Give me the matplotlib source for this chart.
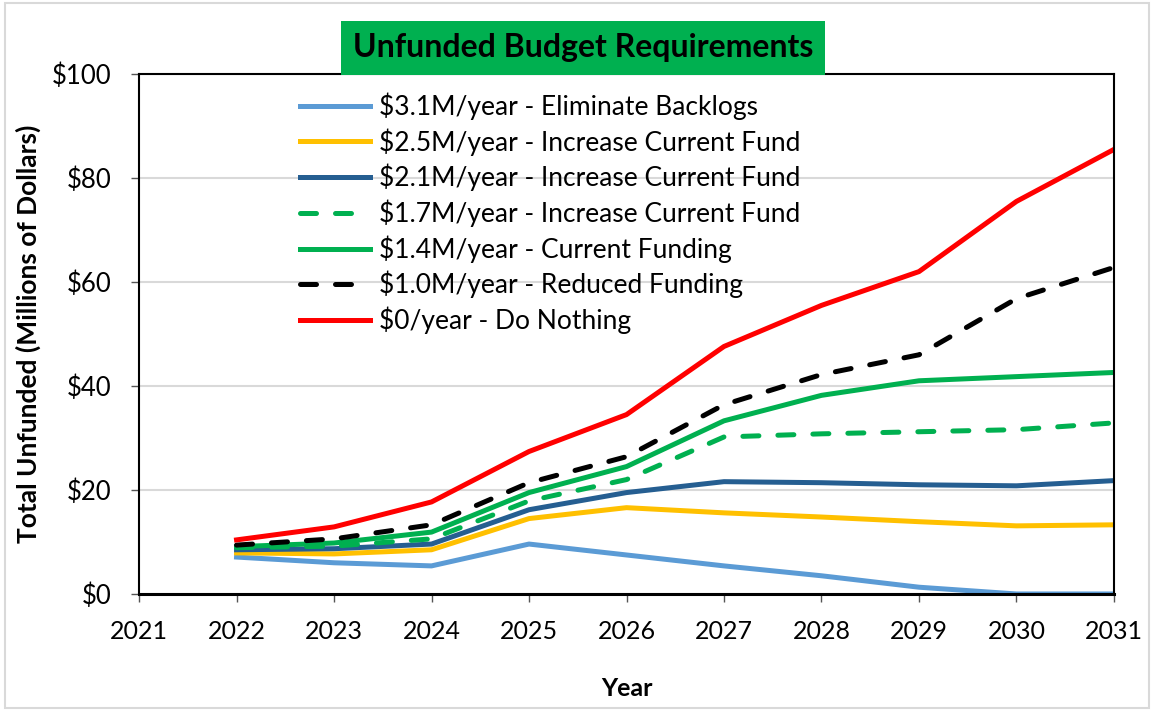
import matplotlib
matplotlib.use("Agg")
import matplotlib.pyplot as plt
from matplotlib.patches import Rectangle

plt.rcParams['font.family'] = ['Lato', 'DejaVu Sans']

years = [2022, 2023, 2024, 2025, 2026, 2027, 2028, 2029, 2030, 2031]

eliminate_backlogs = [7.1, 6.0, 5.4, 9.6, 7.5, 5.4, 3.5, 1.3, 0.0, 0.0]
increase_25 = [7.9, 7.7, 8.5, 14.5, 16.6, 15.6, 14.8, 13.9, 13.1, 13.3]
increase_21 = [8.5, 8.7, 9.6, 16.2, 19.5, 21.6, 21.4, 21.0, 20.8, 21.8]
increase_17 = [8.9, 9.2, 10.6, 17.9, 22.0, 30.2, 30.8, 31.2, 31.6, 32.9]
current_funding = [9.1, 9.8, 11.9, 19.5, 24.5, 33.3, 38.2, 41.0, 41.8, 42.6]
reduced_funding = [9.4, 10.6, 13.3, 21.4, 26.4, 36.4, 42.2, 46.0, 56.8, 62.8]
do_nothing = [10.4, 12.9, 17.7, 27.4, 34.5, 47.6, 55.5, 62.0, 75.5, 85.5]

labels = ["$3.1M/year - Eliminate Backlogs",
          "$2.5M/year - Increase Current Fund",
          "$2.1M/year - Increase Current Fund",
          "$1.7M/year - Increase Current Fund",
          "$1.4M/year - Current Funding",
          "$1.0M/year - Reduced Funding",
          "$0/year - Do Nothing"]

fig = plt.figure(figsize=(11.54, 7.11), dpi=100)
ax = fig.add_axes([0.1205, 0.1646, 0.8448, 0.7313])

lw = 3.6
ax.plot(years, eliminate_backlogs, color='#5B9BD5', lw=lw, label=labels[0])
ax.plot(years, increase_25, color='#FFC000', lw=lw, label=labels[1])
ax.plot(years, increase_21, color='#255E91', lw=lw, label=labels[2])
ax.plot(years, increase_17, color='#00B050', lw=lw, label=labels[3],
        dashes=(3.2, 3.8), dash_capstyle='round')
ax.plot(years, current_funding, color='#00B050', lw=lw, label=labels[4])
ax.plot(years, reduced_funding, color='black', lw=lw, label=labels[5],
        dashes=(3.2, 3.8), dash_capstyle='round')
ax.plot(years, do_nothing, color='#FF0000', lw=lw, label=labels[6])

ax.set_xlim(2021, 2031)
ax.set_ylim(0, 100)
ax.set_xticks(range(2021, 2032))
ax.set_xticklabels([str(y) for y in range(2021, 2032)], fontsize=18)
ax.set_yticks(range(0, 101, 20))
ax.set_yticklabels(["$" + str(v) for v in range(0, 101, 20)], fontsize=18.5)
ax.tick_params(axis='both', direction='out', length=6, width=1, color='#555555')
ax.tick_params(axis='x', pad=13)
ax.tick_params(axis='y', pad=14)
ax.grid(axis='y', color='#D9D9D9', lw=1.5)
ax.set_axisbelow(True)
for s in ax.spines.values():
    s.set_color('black')
    s.set_linewidth(1.5)
ax.spines['bottom'].set_linewidth(2.2)

ax.set_ylabel("Total Unfunded (Millions of Dollars)", fontsize=19, fontweight='bold', labelpad=8)
ax.set_xlabel("Year", fontsize=18, fontweight='bold', labelpad=24)

leg = ax.legend(loc='upper left', bbox_to_anchor=(0.143, 1.005), frameon=False,
                fontsize=19, handlelength=2.65, handletextpad=0.35,
                labelspacing=0.31, borderaxespad=0.4)

fig.text(0.5052, 0.9325, "Unfunded Budget Requirements", ha='center', va='center',
         fontsize=23, fontweight='bold',
         bbox=dict(boxstyle='square,pad=0.38', facecolor='#00B050', edgecolor='none'))

fig.patches.append(Rectangle((0.004, 0.004), 0.992, 0.992, transform=fig.transFigure,
                             fill=False, edgecolor='#D9D9D9', lw=1.5))

fig.savefig("out.png", dpi=100)
